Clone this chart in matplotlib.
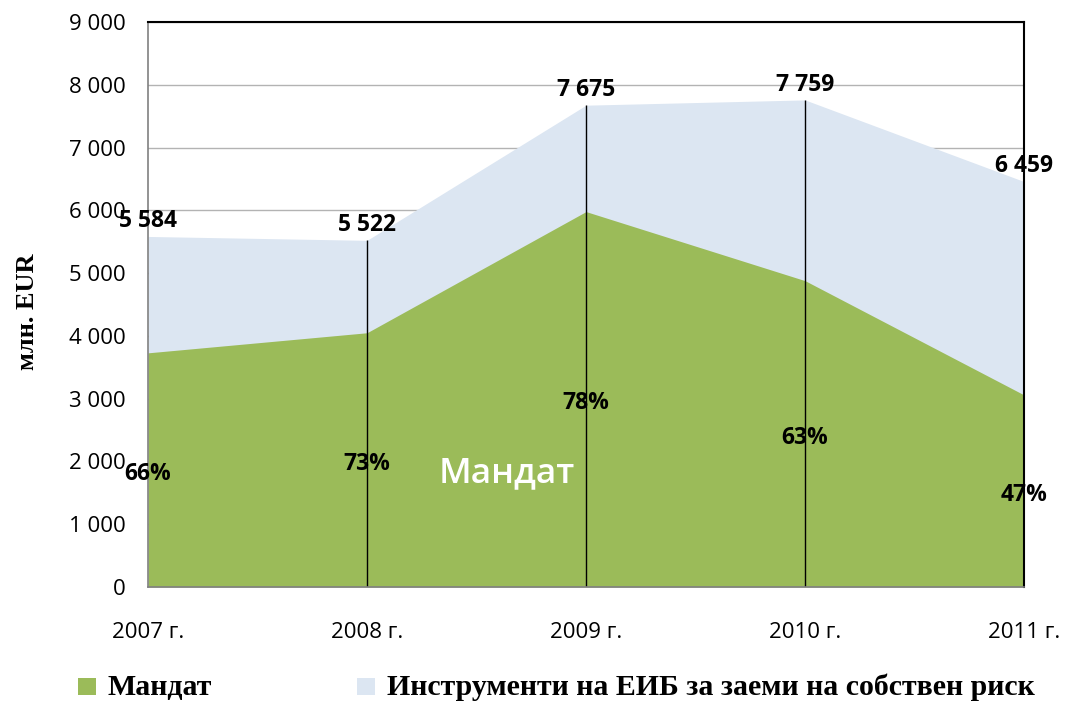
import matplotlib
matplotlib.use("Agg")
import matplotlib.pyplot as plt
from matplotlib.patches import Rectangle
import numpy as np

years = ["2007 г.", "2008 г.", "2009 г.", "2010 г.", "2011 г."]
mandate = [3730, 4050, 5980, 4880, 3060]
totals = [5584, 5522, 7675, 7759, 6459]
total_labels = ["5 584", "5 522", "7 675", "7 759", "6 459"]
pct_labels = ["66%", "73%", "78%", "63%", "47%"]
yticks = [0, 1000, 2000, 3000, 4000, 5000, 6000, 7000, 8000, 9000]
ytick_labels = ["0", "1 000", "2 000", "3 000", "4 000", "5 000", "6 000", "7 000", "8 000", "9 000"]
legend_names = ["Мандат", "Инструменти на ЕИБ за заеми на собствен риск"]

GREEN = "#9BBB59"
BLUE = "#DCE6F2"
SANS = ["Open Sans", "DejaVu Sans"]
SERIF = ["Liberation Serif", "DejaVu Serif"]

fig = plt.figure(figsize=(10.66, 7.01), dpi=100)
ax = fig.add_axes([148/1066, 1-587/701, (1024-148)/1066, (587-22)/701])

x = np.arange(len(years))
ax.fill_between(x, 0, totals, color=BLUE, lw=0, zorder=2)
ax.fill_between(x, 0, mandate, color=GREEN, lw=0, zorder=3)
ax.vlines(x[1:4], 0, np.array(totals)[1:4], color="black", lw=1, zorder=4)

ax.set_xlim(0, len(years) - 1)
ax.set_ylim(0, 9000)
ax.set_yticks(yticks)
ax.set_yticklabels(ytick_labels, family=SANS, fontsize=16)
ax.set_xticks(x)
ax.set_xticklabels(years, family=SANS, fontsize=16)
ax.tick_params(axis="y", length=0, pad=16)
ax.tick_params(axis="x", length=0, pad=25)
ax.grid(axis="y", color="#b3b3b3", lw=1, zorder=1)
ax.set_axisbelow(True)

for s in ["left", "bottom"]:
    ax.spines[s].set_color("#808080")
    ax.spines[s].set_linewidth(1.2)
for s in ["top", "right"]:
    ax.spines[s].set_color("black")
    ax.spines[s].set_linewidth(1.5)
for s in ax.spines.values():
    s.set_zorder(5)

for xi, t, lab in zip(x, totals, total_labels):
    ax.annotate(lab, (xi, t), xytext=(0, 11), textcoords="offset points",
                ha="center", va="center", family=SANS, fontsize=16.5,
                fontweight="bold", zorder=6, annotation_clip=False)
for xi, m, lab in zip(x, mandate, pct_labels):
    ax.annotate(lab, (xi, m / 2), xytext=(0, -3), textcoords="offset points",
                ha="center", va="center", family=SANS, fontsize=16.5,
                fontweight="bold", zorder=6, annotation_clip=False)

ax.text(1.64, 1810, "Мандат", color="white", family=SANS, fontsize=25.5,
        fontweight="semibold", ha="center", va="center", zorder=6)

fig.text(27/1066, 1-312/701, "млн. EUR", rotation=90, family=SERIF,
         fontsize=19, fontweight="bold", ha="center", va="center")

# legend
for px, name, col in [(78, legend_names[0], GREEN), (357, legend_names[1], BLUE)]:
    fig.patches.append(Rectangle((px/1066, 1-695/701), 18/1066, 17/701,
                                 transform=fig.transFigure, color=col, lw=0))
    fig.text((px + 30)/1066, 1-687/701, name, family=SERIF, fontsize=21.5,
             fontweight="bold", ha="left", va="center")

fig.savefig("out.png", dpi=100)
